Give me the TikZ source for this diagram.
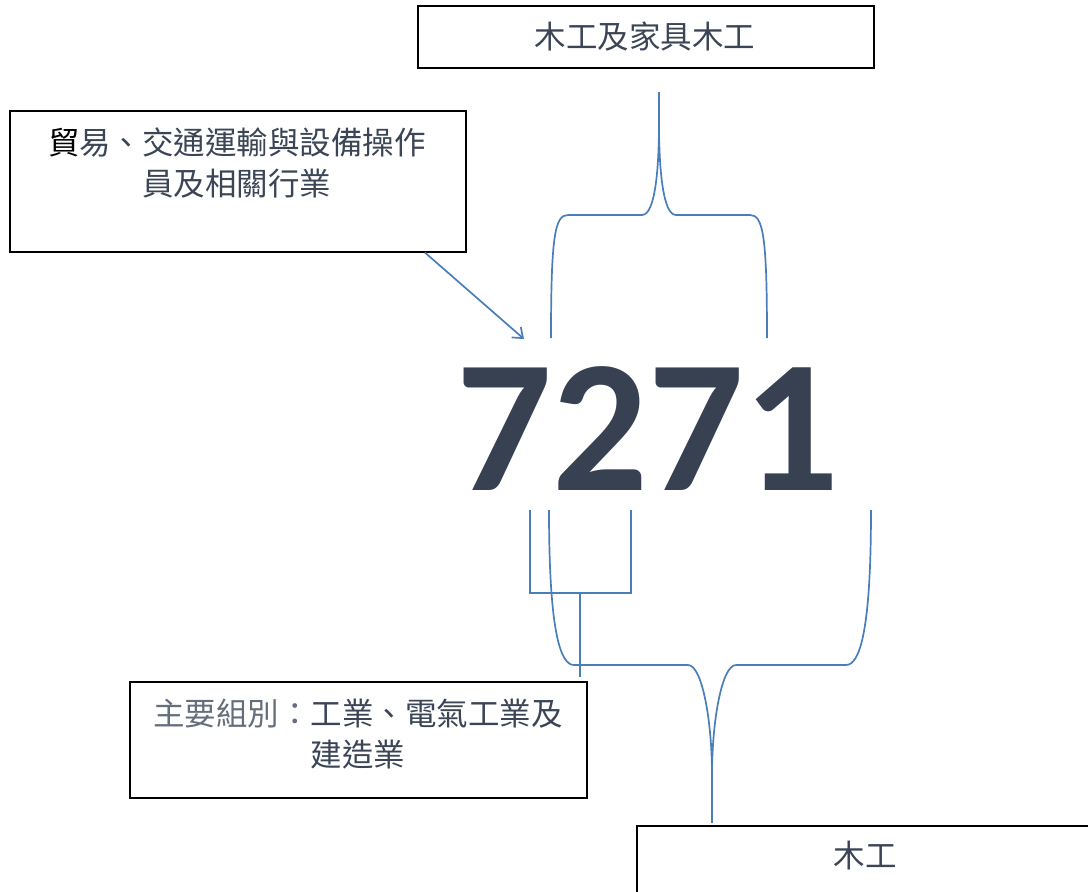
\documentclass[tikz,border=0pt]{standalone}
\usepackage{fontspec}
\usetikzlibrary{arrows.meta}
\newfontfamily\cjk{Noto Sans CJK TC}
\newfontfamily\carl{Carlito}
\definecolor{slate}{HTML}{374152}
\definecolor{txtc}{HTML}{3B4556}
\definecolor{lightc}{HTML}{656E7C}
\definecolor{lineblue}{HTML}{4A7EBB}
\begin{document}
\begin{tikzpicture}[x=1pt,y=-1pt,
  box/.style={draw=black,line width=1.6pt,rectangle,inner sep=0pt,anchor=north west},
  txt/.style={font=\cjk\fontsize{31.5}{41}\selectfont,text=txtc,align=center,inner sep=0pt},
  conn/.style={draw=lineblue,line width=1.7pt},
]
\useasboundingbox (0,0) rectangle (1088,892);
% boxes
\node[box,minimum width=456pt,minimum height=62pt] (T) at (417,5) {};
\node[txt] (Tt) at (645,37) {木工及家具木工};
\node[box,minimum width=456pt,minimum height=141pt] (L) at (9,110) {};
\node[txt] (Lt) at (237,163) {{\color{black}貿}易、交通運輸與設備操作\\員及相關行業};
\node[box,minimum width=457pt,minimum height=116pt] (B) at (129,681) {};
\node[txt] (Bt) at (358,734) {{\color{lightc}主要組別：}工業、電氣工業及\\建造業};
\node[box,minimum width=470pt,minimum height=70pt] (R) at (636,825) {};
\node[txt] (Rt) at (865,856) {木工};
% number
\node[font=\carl\bfseries\fontsize{189}{189}\selectfont,text=slate,inner sep=0pt,anchor=base] (N) at (648,490) {7271};
% arrow
\coordinate (ah) at (524,339);
\draw[conn,-{Straight Barb[length=9pt,width=14pt]}] (L.south -| 425,0) -- (ah);
% top brace
\coordinate (tb) at (659,92);
\draw[conn] (551,338) .. controls (551,235) and (555,215) .. (568,215) -- (642,215)
  .. controls (655,215) and (659,170) .. (659,123) -- (tb);
\draw[conn] (767,338) .. controls (767,235) and (763,215) .. (750,215) -- (676,215)
  .. controls (663,215) and (659,170) .. (659,123);
% bottom small bracket
\coordinate (sb) at (580,677);
\draw[conn] (530,510) -- (530,593) -- (631,593) -- (631,510);
\draw[conn] (580,593) -- (sb);
% bottom brace
\coordinate (bb) at (712,823);
\draw[conn] (549,510) .. controls (549,630) and (560,665) .. (574,665) -- (688,665)
  .. controls (702,665) and (712,720) .. (712,775) -- (bb);
\draw[conn] (871,510) .. controls (871,630) and (860,665) .. (846,665) -- (736,665)
  .. controls (722,665) and (712,720) .. (712,775);
\end{tikzpicture}
\end{document}
